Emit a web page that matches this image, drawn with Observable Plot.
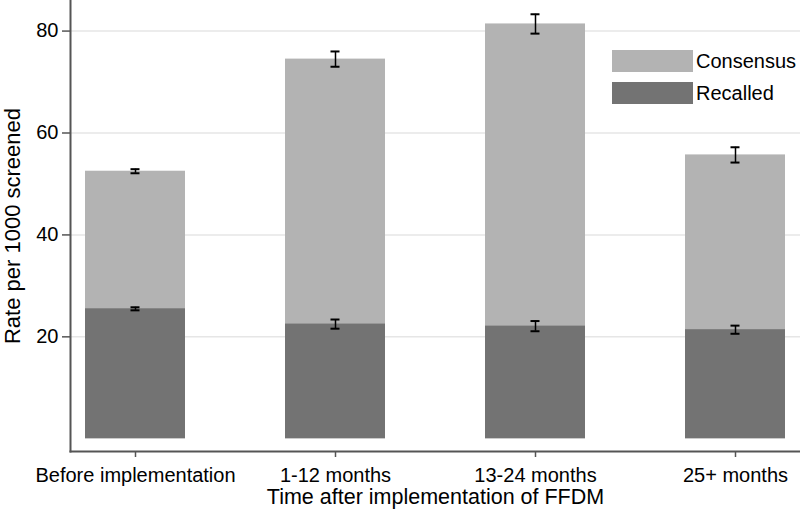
<!DOCTYPE html>
<html><head><meta charset="utf-8">
<script src="https://cdn.jsdelivr.net/npm/d3@7"></script>
<script src="https://cdn.jsdelivr.net/npm/@observablehq/plot@0.6"></script>
<style>
body{margin:0;background:#fff;font-family:"Liberation Sans",Arial,sans-serif}
#wrap{position:relative;width:800px;height:512px}
.legend{position:absolute;left:612px;top:50px;font-size:20px;color:#000}
.item{display:flex;align-items:center;height:22px;margin-bottom:10px}
.sw{width:81px;height:22px;margin-right:3px}
</style></head><body><div id="wrap"></div>
<script>
const categories = ["Before implementation", "1-12 months", "13-24 months", "25+ months"];
const recalled = [25.5, 22.5, 22.1, 21.4];
const recalledErr = [0.3, 0.9, 1.0, 0.8];
const consensus = [52.5, 74.5, 81.4, 55.7];
const consensusErr = [0.4, 1.5, 1.9, 1.5];
const seriesNames = ["Consensus", "Recalled"];
const seriesColors = ["#b3b3b3", "#737373"];
const yTicks = [20, 40, 60, 80];

const rows = categories.map((c, i) => ({
  c, rec: recalled[i], recErr: recalledErr[i], con: consensus[i], conErr: consensusErr[i]
}));

const errMarks = (v, e) => [
  Plot.ruleX(rows, {x: "c", y1: d => d[v] - d[e], y2: d => d[v] + d[e], stroke: "#000", strokeWidth: 1.5}),
  Plot.tickY(rows, {x: "c", y: d => d[v] - d[e], insetLeft: 45.5, insetRight: 45.5, stroke: "#000", strokeWidth: 2}),
  Plot.tickY(rows, {x: "c", y: d => d[v] + d[e], insetLeft: 45.5, insetRight: 45.5, stroke: "#000", strokeWidth: 2})
];

const plot = Plot.plot({
  width: 800, height: 512,
  marginLeft: 70, marginRight: 0, marginTop: 0, marginBottom: 61,
  style: {fontFamily: '"Liberation Sans", Arial, sans-serif', fontSize: "20px", color: "#000", background: "#fff"},
  x: {domain: categories, paddingInner: 0.4975, paddingOuter: 0.065},
  y: {domain: [-2.5, 86]},
  marks: [
    Plot.gridY(yTicks, {stroke: "#e6e6e6", strokeOpacity: 1, strokeWidth: 1.5}),
    Plot.barY(rows, {x: "c", y1: 0, y2: "con", fill: seriesColors[0]}),
    Plot.barY(rows, {x: "c", y1: 0, y2: "rec", fill: seriesColors[1]}),
    ...errMarks("con", "conErr"),
    ...errMarks("rec", "recErr"),
    Plot.frame({anchor: "left", stroke: "#555", strokeWidth: 2}),
    Plot.frame({anchor: "bottom", stroke: "#555", strokeWidth: 2}),
    Plot.axisY(yTicks, {tickSize: 8, tickPadding: 4, stroke: "#555", strokeWidth: 1.5, fill: "#000", fontSize: 20,
      label: null}),
    Plot.axisY({label: "Rate per 1000 screened", labelAnchor: "center", labelArrow: "none", labelOffset: 66,
      ticks: [], tickSize: 0, fontSize: 22, fill: "#000"}),
    Plot.axisX({tickSize: 6, tickPadding: 10, stroke: "#555", strokeWidth: 1.5, fill: "#000", fontSize: 20,
      label: null}),
    Plot.axisX({label: "Time after implementation of FFDM", labelAnchor: "center", labelArrow: "none", labelOffset: 52,
      ticks: [], tickSize: 0, fontSize: 21.5, fill: "#000"})
  ]
});

const wrap = document.getElementById("wrap");
wrap.appendChild(plot);
const lg = document.createElement("div");
lg.className = "legend";
seriesNames.forEach((n, i) => {
  const it = document.createElement("div");
  it.className = "item";
  it.innerHTML = `<div class="sw" style="background:${seriesColors[i]}"></div><span>${n}</span>`;
  lg.appendChild(it);
});
wrap.appendChild(lg);
</script></body></html>
